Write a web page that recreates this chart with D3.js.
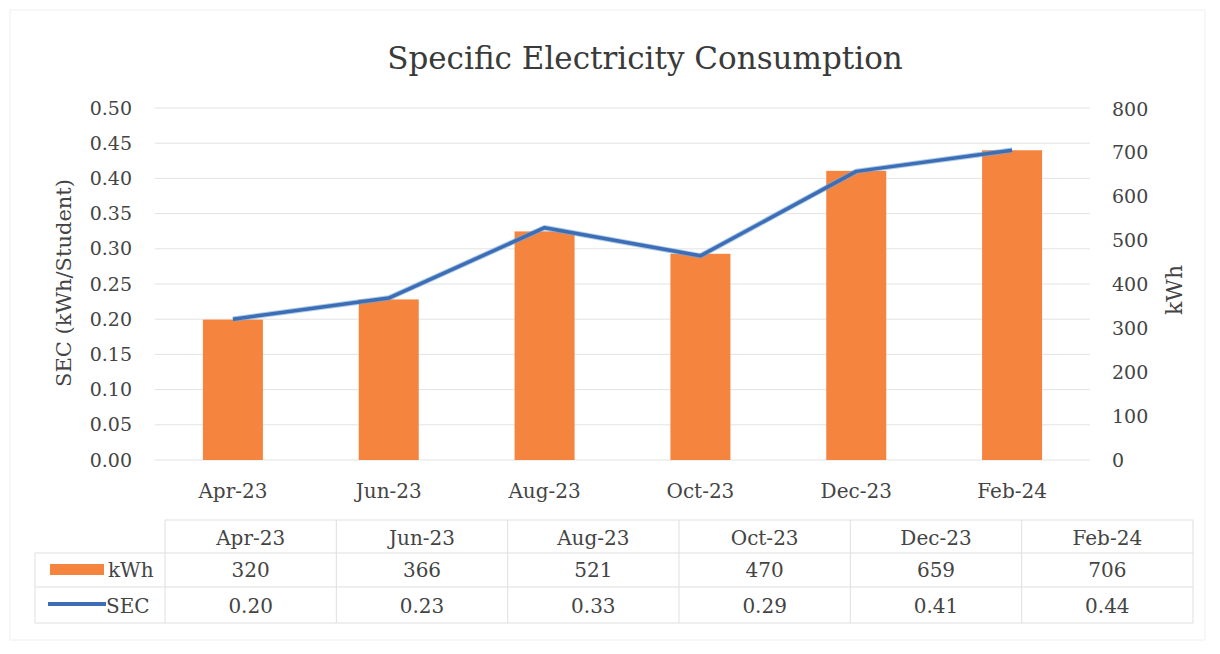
<!DOCTYPE html>
<html>
<head>
<meta charset="utf-8">
<script src="https://cdn.jsdelivr.net/npm/d3@7"></script>
<style>
  html, body { margin: 0; padding: 0; background: #fff; }
  svg text { font-family: "DejaVu Serif", "Liberation Serif", serif; fill: #444; }
  .axis .domain { display: none; }
</style>
</head>
<body>
<svg id="chart"></svg>
<script>
// Specific electricity consumption, bi-monthly
var months = ["Apr-23", "Jun-23", "Aug-23", "Oct-23", "Dec-23", "Feb-24"];
var kwh = [320, 366, 521, 470, 659, 706];
var sec = [0.20, 0.23, 0.33, 0.29, 0.41, 0.44];
var secTicks = [0, 0.05, 0.10, 0.15, 0.20, 0.25, 0.30, 0.35, 0.40, 0.45, 0.50];
var kwhTicks = [0, 100, 200, 300, 400, 500, 600, 700, 800];

var width = 1220,
    height = 654,
    plot = { left: 155, right: 1090, top: 108, bottom: 460 },
    orange = "#f5843f",
    blue = "#3d6db5",
    grid = "#e3e3e3";

var svg = d3.select("#chart")
    .attr("width", width)
    .attr("height", height);

// faint outer frame of the chart
svg.append("rect")
    .attr("x", 10).attr("y", 10)
    .attr("width", 1195).attr("height", 630)
    .attr("fill", "none")
    .attr("stroke", "#efefef");

var x = d3.scaleBand()
    .domain(months)
    .range([plot.left, plot.right]);

var ySec = d3.scaleLinear()
    .domain([0, 0.5])
    .range([plot.bottom, plot.top]);

var yKwh = d3.scaleLinear()
    .domain([0, 800])
    .range([plot.bottom, plot.top + 1]);

// title
svg.append("text")
    .attr("x", 645)
    .attr("y", 69)
    .attr("text-anchor", "middle")
    .style("font-size", "31px")
    .style("fill", "#3a3a3a")
    .text("Specific Electricity Consumption");

// horizontal gridlines
svg.append("g")
    .selectAll("line")
    .data(secTicks)
    .enter().append("line")
    .attr("x1", plot.left)
    .attr("x2", plot.right)
    .attr("y1", function(d) { return ySec(d); })
    .attr("y2", function(d) { return ySec(d); })
    .attr("stroke", grid)
    .attr("stroke-width", 1);

// left axis (SEC)
var left = svg.append("g")
    .attr("class", "axis")
    .attr("transform", "translate(" + plot.left + ",0)")
    .call(d3.axisLeft(ySec).tickValues(secTicks).tickFormat(d3.format(".2f")).tickSize(0).tickPadding(23));
left.selectAll("text").style("font-size", "19px").style("font-family", null).attr("fill", null);

// right axis (kWh)
var right = svg.append("g")
    .attr("class", "axis")
    .attr("transform", "translate(" + plot.right + ",0)")
    .call(d3.axisRight(yKwh).tickValues(kwhTicks).tickSize(0).tickPadding(22));
right.selectAll("text").style("font-size", "19px").style("font-family", null).attr("fill", null);

// axis titles
svg.append("text")
    .attr("transform", "translate(71,283) rotate(-90)")
    .attr("text-anchor", "middle")
    .style("font-size", "21px")
    .text("SEC (kWh/Student)");

svg.append("text")
    .attr("transform", "translate(1182,290) rotate(-90)")
    .attr("text-anchor", "middle")
    .style("font-size", "22px")
    .text("kWh");

// kWh bars
var barW = 60;
svg.append("g")
    .selectAll("rect")
    .data(months)
    .enter().append("rect")
    .attr("x", function(d) { return x(d) + x.bandwidth() / 2 - barW / 2; })
    .attr("y", function(d, i) { return yKwh(kwh[i]); })
    .attr("width", barW)
    .attr("height", function(d, i) { return yKwh(0) - yKwh(kwh[i]); })
    .attr("fill", orange);

// category axis
var bottom = svg.append("g")
    .attr("class", "axis")
    .attr("transform", "translate(0," + plot.bottom + ")")
    .call(d3.axisBottom(x).tickSize(0).tickPadding(24));
bottom.select(".domain").style("display", null).attr("stroke", "#d4d4d4");
bottom.selectAll("text").style("font-size", "20px").style("font-family", null).attr("fill", null);

// SEC line
var line = d3.line()
    .x(function(d, i) { return x(months[i]) + x.bandwidth() / 2; })
    .y(function(d) { return ySec(d); });

svg.append("path")
    .datum(sec)
    .attr("d", line)
    .attr("fill", "none")
    .attr("stroke", "#6fa6d8")
    .attr("stroke-width", 5.5)
    .attr("stroke-linejoin", "round")
    .attr("stroke-opacity", 0.6);

svg.append("path")
    .datum(sec)
    .attr("d", line)
    .attr("fill", "none")
    .attr("stroke", blue)
    .attr("stroke-width", 3.5)
    .attr("stroke-linejoin", "round");

// data table under the chart
var xt = d3.scaleBand()
    .domain(months)
    .range([165, 1193]);

var rows = { head: 538, kwh: 570, sec: 606 },
    table = svg.append("g"),
    tline = "#dfdfdf";

table.append("line")
    .attr("x1", 165).attr("x2", 1193)
    .attr("y1", 520).attr("y2", 520)
    .attr("stroke", tline);

[553, 587, 623].forEach(function(y) {
  table.append("line")
      .attr("x1", 35).attr("x2", 1193)
      .attr("y1", y).attr("y2", y)
      .attr("stroke", tline);
});

table.selectAll(".col")
    .data(months.concat(["end"]))
    .enter().append("line")
    .attr("x1", function(d, i) { return 165 + i * xt.bandwidth(); })
    .attr("x2", function(d, i) { return 165 + i * xt.bandwidth(); })
    .attr("y1", 520).attr("y2", 623)
    .attr("stroke", tline);

table.append("line")
    .attr("x1", 35).attr("x2", 35)
    .attr("y1", 553).attr("y2", 623)
    .attr("stroke", tline);

function tableRow(values, y, fmt) {
  table.append("g")
      .selectAll("text")
      .data(values)
      .enter().append("text")
      .attr("x", function(d, i) { return xt(months[i]) + xt.bandwidth() / 2; })
      .attr("y", y)
      .attr("dy", "0.35em")
      .attr("text-anchor", "middle")
      .style("font-size", "20px")
      .text(fmt);
}

tableRow(months, rows.head, String);
tableRow(kwh, rows.kwh, String);
tableRow(sec, rows.sec, d3.format(".2f"));

// legend keys in the first column
table.append("rect")
    .attr("x", 50).attr("y", rows.kwh - 6)
    .attr("width", 54).attr("height", 11)
    .attr("fill", orange);

table.append("text")
    .attr("x", 108).attr("y", rows.kwh)
    .attr("dy", "0.35em")
    .style("font-size", "20px")
    .text("kWh");

table.append("line")
    .attr("x1", 48).attr("x2", 106)
    .attr("y1", rows.sec - 2).attr("y2", rows.sec - 2)
    .attr("stroke", blue)
    .attr("stroke-width", 4);

table.append("text")
    .attr("x", 106).attr("y", rows.sec)
    .attr("dy", "0.35em")
    .style("font-size", "20px")
    .text("SEC");
</script>
</body>
</html>
